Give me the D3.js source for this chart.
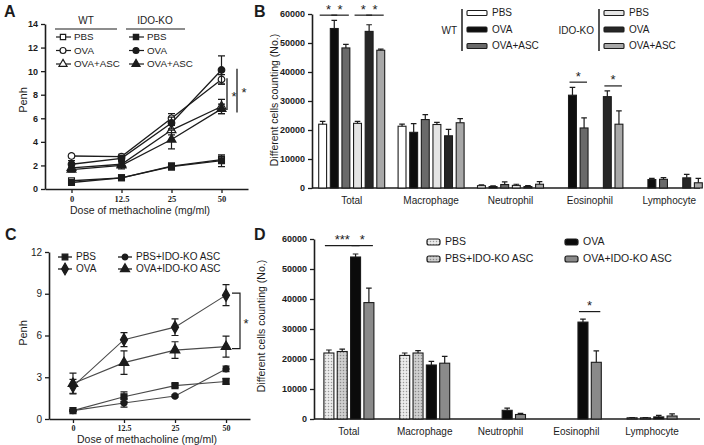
<!DOCTYPE html>
<html><head><meta charset="utf-8">
<script src="https://cdn.jsdelivr.net/npm/d3@7"></script>
<style>body{margin:0;background:#fff}svg{display:block;font-family:"Liberation Sans",Arial,sans-serif}</style>
</head><body><svg id="c" width="704" height="445"></svg>
<script>
// ---------- DATA ----------
const doses = ["0", "12.5", "25", "50"];
// Panel A (Penh)
const aWtPbs = [0.7, 0.95, 1.95, 2.5];
const aWtPbsErr = [0.1, 0.1, 0.2, 0.3];
const aWtOva = [2.8, 2.75, 6.0, 9.3];
const aWtOvaErr = [0.15, 0.2, 0.4, 0.4];
const aWtAsc = [1.8, 2.1, 5.0, 7.0];
const aWtAscErr = [0.2, 0.2, 0.4, 0.6];
const aKoPbs = [0.55, 0.95, 1.9, 2.4];
const aKoPbsErr = [0.1, 0.1, 0.3, 0.5];
const aKoOva = [2.1, 2.6, 5.6, 10.1];
const aKoOvaErr = [0.3, 0.2, 0.5, 1.2];
const aKoAsc = [1.65, 2.0, 4.2, 6.8];
const aKoAscErr = [0.2, 0.3, 0.8, 0.4];
const aSig = [[9.4, 6.7], [10.2, 6.5]];

// Panel B (cell counts)
const cells = ["Total", "Macrophage", "Neutrophil", "Eosinophil", "Lymphocyte"];
const bSeries = ["WT PBS", "WT OVA", "WT OVA+ASC", "IDO-KO PBS", "IDO-KO OVA", "IDO-KO OVA+ASC"];
const bWtPbs = [22000, 21300, 800, 0, 0];
const bWtPbsErr = [1000, 700, 300, 0, 0];
const bWtOva = [55000, 19200, 500, 32000, 2900];
const bWtOvaErr = [2800, 3000, 200, 2700, 400];
const bWtAsc = [48300, 23600, 1200, 20700, 3000];
const bWtAscErr = [1200, 1700, 900, 3500, 600];
const bKoPbs = [22300, 21900, 900, 0, 0];
const bKoPbsErr = [700, 700, 400, 0, 0];
const bKoOva = [54000, 18000, 500, 31500, 3500];
const bKoOvaErr = [2300, 2200, 300, 2000, 1200];
const bKoAsc = [47500, 22500, 1300, 22000, 1800];
const bKoAscErr = [400, 1400, 900, 4600, 1500];
// significance: [category, seriesA, seriesB, level]
const bSig = [["Total", 0, 1, 59600], ["Total", 1, 2, 59600], ["Total", 3, 4, 59600], ["Total", 4, 5, 59600],
              ["Eosinophil", 1, 2, 36500], ["Eosinophil", 4, 5, 35200]];

// Panel C (Penh)
const cSeries = ["PBS", "OVA", "PBS+IDO-KO ASC", "OVA+IDO-KO ASC"];
const cPbs = [0.6, 1.6, 2.4, 2.7];
const cPbsErr = [0.05, 0.35, 0.12, 0.2];
const cOva = [2.35, 5.7, 6.6, 8.9];
const cOvaErr = [0.5, 0.5, 0.6, 0.75];
const cPbsAsc = [0.6, 1.15, 1.65, 3.6];
const cPbsAscErr = [0.05, 0.3, 0.08, 0.2];
const cOvaAsc = [2.55, 4.05, 4.95, 5.2];
const cOvaAscErr = [0.75, 0.85, 0.6, 0.75];
const cSig = [9.05, 5.05];

// Panel D (cell counts)
const dSeries = ["PBS", "PBS+IDO-KO ASC", "OVA", "OVA+IDO-KO ASC"];
const dPbs = [22000, 21200, 0, 0, 400];
const dPbsErr = [1000, 800, 0, 0, 100];
const dPbsAsc = [22500, 22000, 0, 0, 400];
const dPbsAscErr = [800, 800, 0, 0, 100];
const dOva = [54000, 18000, 2900, 32300, 700];
const dOvaErr = [1000, 1200, 700, 1000, 500];
const dOvaAsc = [38800, 18600, 1500, 18900, 1000];
const dOvaAscErr = [4800, 2300, 400, 3800, 700];
const dSig = [["Total", 0, 2, 57800, "***"], ["Total", 2, 3, 57800, "*"], ["Eosinophil", 2, 3, 35800, "*"]];

// ---------- DRAWING ----------
const ink = "#1c1c1c";
const svg = d3.select("#c");

const defs = svg.append("defs");
function dotPattern(id, bg, dot) {
  const p = defs.append("pattern").attr("id", id).attr("width", 3).attr("height", 3).attr("patternUnits", "userSpaceOnUse");
  p.append("rect").attr("width", 3).attr("height", 3).attr("fill", bg);
  p.append("circle").attr("cx", 1.5).attr("cy", 1.5).attr("r", 0.75).attr("fill", dot);
}
dotPattern("dotA", "#ececec", "#9a9a9a");
dotPattern("dotB", "#cfcfcf", "#8a8a8a");

function styleAxis(g, fs, fw, ff, dw) {
  g.attr("font-family", ff || '"Liberation Sans", Arial, sans-serif').attr("font-size", fs).attr("font-weight", fw || "normal");
  g.select(".domain").attr("stroke", ink).attr("stroke-width", dw || 1.6);
  g.selectAll(".tick line").attr("stroke", ink).attr("stroke-width", 1.3);
  g.selectAll(".tick text").attr("fill", ink);
}
function text(g, x, y, s, o = {}) {
  const t = g.append("text").attr("x", x).attr("y", y).text(s).attr("fill", ink)
    .attr("font-size", o.fs || 10).attr("text-anchor", o.anchor || "start")
    .attr("dominant-baseline", o.base || "middle");
  if (o.fw) t.attr("font-weight", o.fw);
  if (o.rot) t.attr("transform", `rotate(-90,${x},${y})`);
  return t;
}
function marker(g, x, y, type, filled, size) {
  g.append("path").attr("d", d3.symbol(type, size)()).attr("transform", `translate(${x},${y})`)
    .attr("fill", filled ? ink : "#fff").attr("stroke", ink).attr("stroke-width", 1.2);
}
function lineSeries(g, x, y, vals, errs, type, filled, size, lc, lw) {
  g.append("path").attr("d", d3.line().x((d, i) => x(doses[i])).y(d => y(d))(vals))
    .attr("fill", "none").attr("stroke", lc).attr("stroke-width", lw);
  vals.forEach((v, i) => {
    const cx = x(doses[i]);
    const e = errs[i];
    g.append("path").attr("d", `M${cx},${y(v - e)}V${y(v + e)}M${cx - 3.5},${y(v - e)}H${cx + 3.5}M${cx - 3.5},${y(v + e)}H${cx + 3.5}`)
      .attr("stroke", ink).attr("stroke-width", 1.2).attr("fill", "none");
  });
  vals.forEach((v, i) => marker(g, x(doses[i]), y(v), type, filled, size));
}

// ===== Panel A =====
{
  const g = svg.append("g");
  const x = d3.scalePoint(doses, [45, 248]).padding(0.53);
  const y = d3.scaleLinear([0, 14], [189, 24]);
  g.append("g").attr("transform", "translate(45,0)")
    .call(d3.axisLeft(y).tickValues(d3.range(0, 15, 2)).tickSize(4).tickSizeOuter(0))
    .call(a => styleAxis(a, 9, "bold"));
  g.append("g").attr("transform", "translate(0,189)")
    .call(d3.axisBottom(x).tickSize(4).tickSizeOuter(0))
    .call(a => styleAxis(a, 8.5, "bold", '"Liberation Serif", serif'));
  text(g, 140, 211, "Dose of methacholine (mg/ml)", { fs: 10.5, anchor: "middle" });
  text(g, 24, 100, "Penh", { fs: 11, anchor: "middle", rot: true });
  text(g, 4, 17, "A", { fs: 16, fw: "bold", base: "alphabetic" });

  const S = 34;
  lineSeries(g, x, y, aWtPbs, aWtPbsErr, d3.symbolSquare, false, S, ink, 1.3);
  lineSeries(g, x, y, aKoPbs, aKoPbsErr, d3.symbolSquare, true, S, ink, 1.3);
  lineSeries(g, x, y, aWtAsc, aWtAscErr, d3.symbolTriangle, false, S, ink, 1.3);
  lineSeries(g, x, y, aKoAsc, aKoAscErr, d3.symbolTriangle, true, S, ink, 1.3);
  lineSeries(g, x, y, aWtOva, aWtOvaErr, d3.symbolCircle, false, S, ink, 1.3);
  lineSeries(g, x, y, aKoOva, aKoOvaErr, d3.symbolCircle, true, S, ink, 1.3);

  // significance
  const sx = [227, 237];
  aSig.forEach((s, i) => {
    g.append("line").attr("x1", sx[i]).attr("x2", sx[i]).attr("y1", y(s[0])).attr("y2", y(s[1]))
      .attr("stroke", ink).attr("stroke-width", 1.3);
    text(g, sx[i] + 7, (y(s[0]) + y(s[1])) / 2 + 3, "*", { fs: 13, anchor: "middle" });
  });

  // legend
  text(g, 86, 21, "WT", { fs: 10, anchor: "middle" });
  text(g, 155, 21, "IDO-KO", { fs: 10, anchor: "middle" });
  g.append("line").attr("x1", 55).attr("x2", 117).attr("y1", 29).attr("y2", 29).attr("stroke", ink).attr("stroke-width", 1.2);
  g.append("line").attr("x1", 126).attr("x2", 185).attr("y1", 29).attr("y2", 29).attr("stroke", ink).attr("stroke-width", 1.2);
  const rows = [["PBS", d3.symbolSquare], ["OVA", d3.symbolCircle], ["OVA+ASC", d3.symbolTriangle]];
  rows.forEach((r, i) => {
    const yy = 37 + i * 13.5;
    [[56, false], [129, true]].forEach(([lx, f]) => {
      g.append("line").attr("x1", lx).attr("x2", lx + 15).attr("y1", yy).attr("y2", yy).attr("stroke", ink).attr("stroke-width", 1.2);
      marker(g, lx + 7, yy, r[1], f, 28);
      text(g, lx + 18, yy + 0.5, r[0], { fs: 9.8 });
    });
  });
}

// ===== Bar panel helper =====
function barPanel(opts) {
  const g = svg.append("g");
  const y = d3.scaleLinear([0, 60000], [opts.y0, opts.y1]);
  const x = d3.scaleBand(cells, opts.xr);
  const xi = d3.scaleBand(opts.series, opts.inner).paddingInner(opts.pad);
  g.append("g").attr("transform", `translate(${opts.ax},0)`)
    .call(d3.axisLeft(y).tickValues(d3.range(0, 60001, 10000)).tickFormat(d3.format("d")).tickSize(4).tickSizeOuter(0))
    .call(a => styleAxis(a, 9, "bold"));
  const xa = g.append("g").attr("transform", `translate(0,${opts.y0})`)
    .call(d3.axisBottom(x).tickSize(0).tickPadding(9))
    .call(a => styleAxis(a, 10));
  xa.select(".domain").remove();
  g.append("line").attr("x1", opts.ax).attr("x2", 700).attr("y1", opts.y0).attr("y2", opts.y0).attr("stroke", ink).attr("stroke-width", 1.6);

  opts.series.forEach((s, si) => {
    const vals = opts.values[si], errs = opts.errors[si];
    cells.forEach((c, ci) => {
      const v = vals[ci];
      if (!v) return;
      const bx = x(c) + x.bandwidth() / 2 + xi(s);
      const bw = xi.bandwidth();
      g.append("rect").attr("x", bx).attr("y", y(v)).attr("width", bw).attr("height", y(0) - y(v))
        .attr("fill", opts.fills[si]).attr("stroke", ink).attr("stroke-width", 1.1);
      const cx = bx + bw / 2, e = errs[ci];
      g.append("path").attr("d", `M${cx},${y(v)}V${y(v + e)}M${cx - 2.8},${y(v + e)}H${cx + 2.8}`)
        .attr("stroke", ink).attr("stroke-width", 1.2).attr("fill", "none");
    });
  });
  opts.sig.forEach(s => {
    const c0 = x(s[0]) + x.bandwidth() / 2;
    const xa0 = c0 + xi(opts.series[s[1]]), xb1 = c0 + xi(opts.series[s[2]]) + xi.bandwidth();
    const yy = y(s[3]);
    g.append("line").attr("x1", xa0 + 1).attr("x2", xb1 - 1).attr("y1", yy).attr("y2", yy).attr("stroke", ink).attr("stroke-width", 1.2);
    text(g, (xa0 + xb1) / 2, yy - 6, s[4] || "*", { fs: 13, anchor: "middle", base: "alphabetic" }).attr("dy", "0.35em");
  });
  text(g, opts.tx, opts.ty, "Different cells counting (No.)", { fs: 10.5, anchor: "middle", rot: true });
  return g;
}

// ===== Panel B =====
{
  const fills = ["#ffffff", "#0e0e0e", "#6a6a6a", "#e4e4e4", "#262626", "#a8a8a8"];
  const g = barPanel({
    y0: 188, y1: 14, ax: 312, xr: [312, 709], inner: [-33, 33], pad: 0.32,
    series: bSeries, fills,
    values: [bWtPbs, bWtOva, bWtAsc, bKoPbs, bKoOva, bKoAsc],
    errors: [bWtPbsErr, bWtOvaErr, bWtAscErr, bKoPbsErr, bKoOvaErr, bKoAscErr],
    sig: bSig, tx: 275, ty: 100
  });
  text(g, 254, 17, "B", { fs: 16, fw: "bold", base: "alphabetic" });
  // legend
  const labs = ["PBS", "OVA", "OVA+ASC"];
  [[462, "WT", 0], [599, "IDO-KO", 3]].forEach(([lx, name, off]) => {
    g.append("line").attr("x1", lx).attr("x2", lx).attr("y1", 9).attr("y2", 51).attr("stroke", ink).attr("stroke-width", 1.5);
    text(g, lx - 5, 31, name, { fs: 10, anchor: "end" });
    labs.forEach((l, i) => {
      const yy = 13 + i * 16.5;
      g.append("rect").attr("x", lx + 5).attr("y", yy - 2.5).attr("width", 20).attr("height", 5).attr("rx", 1)
        .attr("fill", fills[off + i]).attr("stroke", ink).attr("stroke-width", 1.1);
      text(g, lx + 30, yy + 0.5, l, { fs: 10 });
    });
  });
}

// ===== Panel C =====
{
  const g = svg.append("g");
  const x = d3.scalePoint(doses, [49, 250]).padding(0.47);
  const y = d3.scaleLinear([0, 12], [419, 252]);
  g.append("g").attr("transform", "translate(49,0)")
    .call(d3.axisLeft(y).tickValues([0, 3, 6, 9, 12]).tickSize(4).tickSizeOuter(0))
    .call(a => styleAxis(a, 10));
  g.append("g").attr("transform", "translate(0,419)")
    .call(d3.axisBottom(x).tickSize(4).tickSizeOuter(0).tickPadding(2))
    .call(a => styleAxis(a, 8, "bold", '"Liberation Serif", serif'));
  text(g, 147, 440, "Dose of methacholine (mg/ml)", { fs: 10.5, anchor: "middle" });
  text(g, 24, 333, "Penh", { fs: 11, anchor: "middle", rot: true });
  text(g, 5, 240, "C", { fs: 16, fw: "bold", base: "alphabetic" });
  const lc = "#4a4a4a";
  lineSeries(g, x, y, cPbsAsc, cPbsAscErr, d3.symbolCircle, true, 30, lc, 1.1);
  lineSeries(g, x, y, cPbs, cPbsErr, d3.symbolSquare, true, 36, lc, 1.1);
  lineSeries(g, x, y, cOvaAsc, cOvaAscErr, d3.symbolTriangle, true, 40, lc, 1.1);
  lineSeries(g, x, y, cOva, cOvaErr, d3.symbolDiamond, true, 44, lc, 1.1);
  // significance bracket
  g.append("path").attr("d", `M232,${y(cSig[0])}H240V${y(cSig[1])}H232`).attr("fill", "none").attr("stroke", ink).attr("stroke-width", 1.2);
  text(g, 246, (y(cSig[0]) + y(cSig[1])) / 2 + 4, "*", { fs: 13, anchor: "middle" });
  // legend
  const leg = [[58, 257, "PBS", d3.symbolSquare, 32], [58, 269, "OVA", d3.symbolDiamond, 40],
               [118, 257, "PBS+IDO-KO ASC", d3.symbolCircle, 26], [118, 269, "OVA+IDO-KO ASC", d3.symbolTriangle, 36]];
  leg.forEach(([lx, ly, l, t, s]) => {
    g.append("line").attr("x1", lx).attr("x2", lx + 14).attr("y1", ly).attr("y2", ly).attr("stroke", ink).attr("stroke-width", 1.3);
    marker(g, lx + 7, ly, t, true, s);
    text(g, lx + 18, ly + 0.5, l, { fs: 10 });
  });
}

// ===== Panel D =====
{
  const fills = ["url(#dotA)", "url(#dotB)", "#0b0b0b", "#8a8a8a"];
  const g = barPanel({
    y0: 419, y1: 239, ax: 314, xr: [311, 690], inner: [-25, 25], pad: 0.25,
    series: dSeries, fills,
    values: [dPbs, dPbsAsc, dOva, dOvaAsc],
    errors: [dPbsErr, dPbsAscErr, dOvaErr, dOvaAscErr],
    sig: dSig, tx: 262, ty: 326
  });
  text(g, 254, 240, "D", { fs: 16, fw: "bold", base: "alphabetic" });
  const leg = [[427, 242, 0], [427, 259, 1], [565, 242, 2], [565, 259, 3]];
  leg.forEach(([lx, ly, i]) => {
    g.append("rect").attr("x", lx).attr("y", ly - 3).attr("width", 13).attr("height", 6).attr("rx", 2)
      .attr("fill", fills[i]).attr("stroke", ink).attr("stroke-width", 1.2);
    text(g, lx + 18, ly + 0.5, dSeries[i], { fs: 10.5 });
  });
}
</script>
</body></html>
